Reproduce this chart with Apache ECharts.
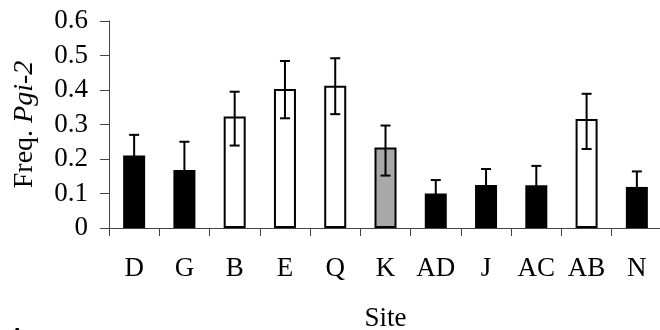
<!DOCTYPE html>
<html><head><meta charset="utf-8">
<script src="https://cdn.jsdelivr.net/npm/echarts@6/dist/echarts.min.js"></script>
<style>html,body{margin:0;padding:0;background:#fff}#c{width:660px;height:330px}</style>
</head><body><div id="c"></div>
<script>
const sites = ['D','G','B','E','Q','K','AD','J','AC','AB','N'];
const freq = [0.21,0.168,0.323,0.403,0.412,0.233,0.10,0.125,0.124,0.316,0.119];
const errUpper = [0.27,0.25,0.395,0.484,0.492,0.297,0.139,0.171,0.18,0.389,0.164];
const errLower = [0.15,0.086,0.239,0.318,0.33,0.152,0.06,0.08,0.07,0.229,0.07];
const group = ['filled','filled','open','open','open','shaded','filled','filled','filled','open','filled'];
const yTicks = ['0','0.1','0.2','0.3','0.4','0.5','0.6'];

const fills = {filled:'#000', open:'#fff', shaded:'#a8a8a8'};
const FONT = '"Liberation Serif","Times New Roman",serif';

const chart = echarts.init(document.getElementById('c'), null, {renderer:'canvas'});
chart.setOption({
  animation:false,
  grid:{left:109, right:-2, top:21, bottom:102, containLabel:false, outerBoundsMode:'none'},
  xAxis:{
    type:'category', data:sites,
    axisLine:{lineStyle:{color:'#444', width:1}},
    axisTick:{show:true, length:8, lineStyle:{color:'#444'}},
    axisLabel:{color:'#000', fontFamily:FONT, fontSize:27, margin:27, interval:0, hideOverlap:false},
    name:'Site', nameLocation:'middle', nameGap:77,
    nameTextStyle:{color:'#000', fontFamily:FONT, fontSize:27}
  },
  yAxis:{
    type:'value', min:0, max:0.6, interval:0.1,
    splitLine:{show:false},
    axisLine:{show:true, lineStyle:{color:'#444', width:1}},
    axisTick:{show:true, length:9, lineStyle:{color:'#444'}},
    axisLabel:{color:'#000', fontFamily:FONT, fontSize:27, margin:21,
      formatter:(v)=>yTicks[Math.round(v*10)]},
    name:'{a|Freq. }{b|Pgi-2}', nameLocation:'middle', nameRotate:90, nameGap:70,
    nameTextStyle:{rich:{
      a:{color:'#000', fontFamily:FONT, fontSize:28},
      b:{color:'#000', fontFamily:FONT, fontSize:28, fontStyle:'italic'}
    }}
  },
  series:[
    {
      type:'bar', barWidth:22,
      data:freq.map((v,i)=>({value:v, itemStyle:{color:fills[group[i]], borderColor:'#000', borderWidth:group[i]==='filled'?0:2}})),
      z:2
    },
    {
      type:'custom', z:3,
      data:sites.map((s,i)=>[i, errLower[i], errUpper[i]]),
      renderItem:function(params, api){
        const x = api.coord([api.value(0), 0])[0];
        const lo = api.coord([api.value(0), api.value(1)])[1];
        const hi = api.coord([api.value(0), api.value(2)])[1];
        const hw = 5;
        const st = {stroke:'#000', lineWidth:2};
        return {type:'group', children:[
          {type:'line', shape:{x1:x, y1:lo, x2:x, y2:hi}, style:st},
          {type:'line', shape:{x1:x-hw, y1:hi, x2:x+hw, y2:hi}, style:st},
          {type:'line', shape:{x1:x-hw, y1:lo, x2:x+hw, y2:lo}, style:st}
        ]};
      }
    }
  ],
  graphic:[{type:'text', left:10, top:327, style:{text:'A', font:'bold 20px "Liberation Serif"', fill:'#000'}}]
});
</script></body></html>
